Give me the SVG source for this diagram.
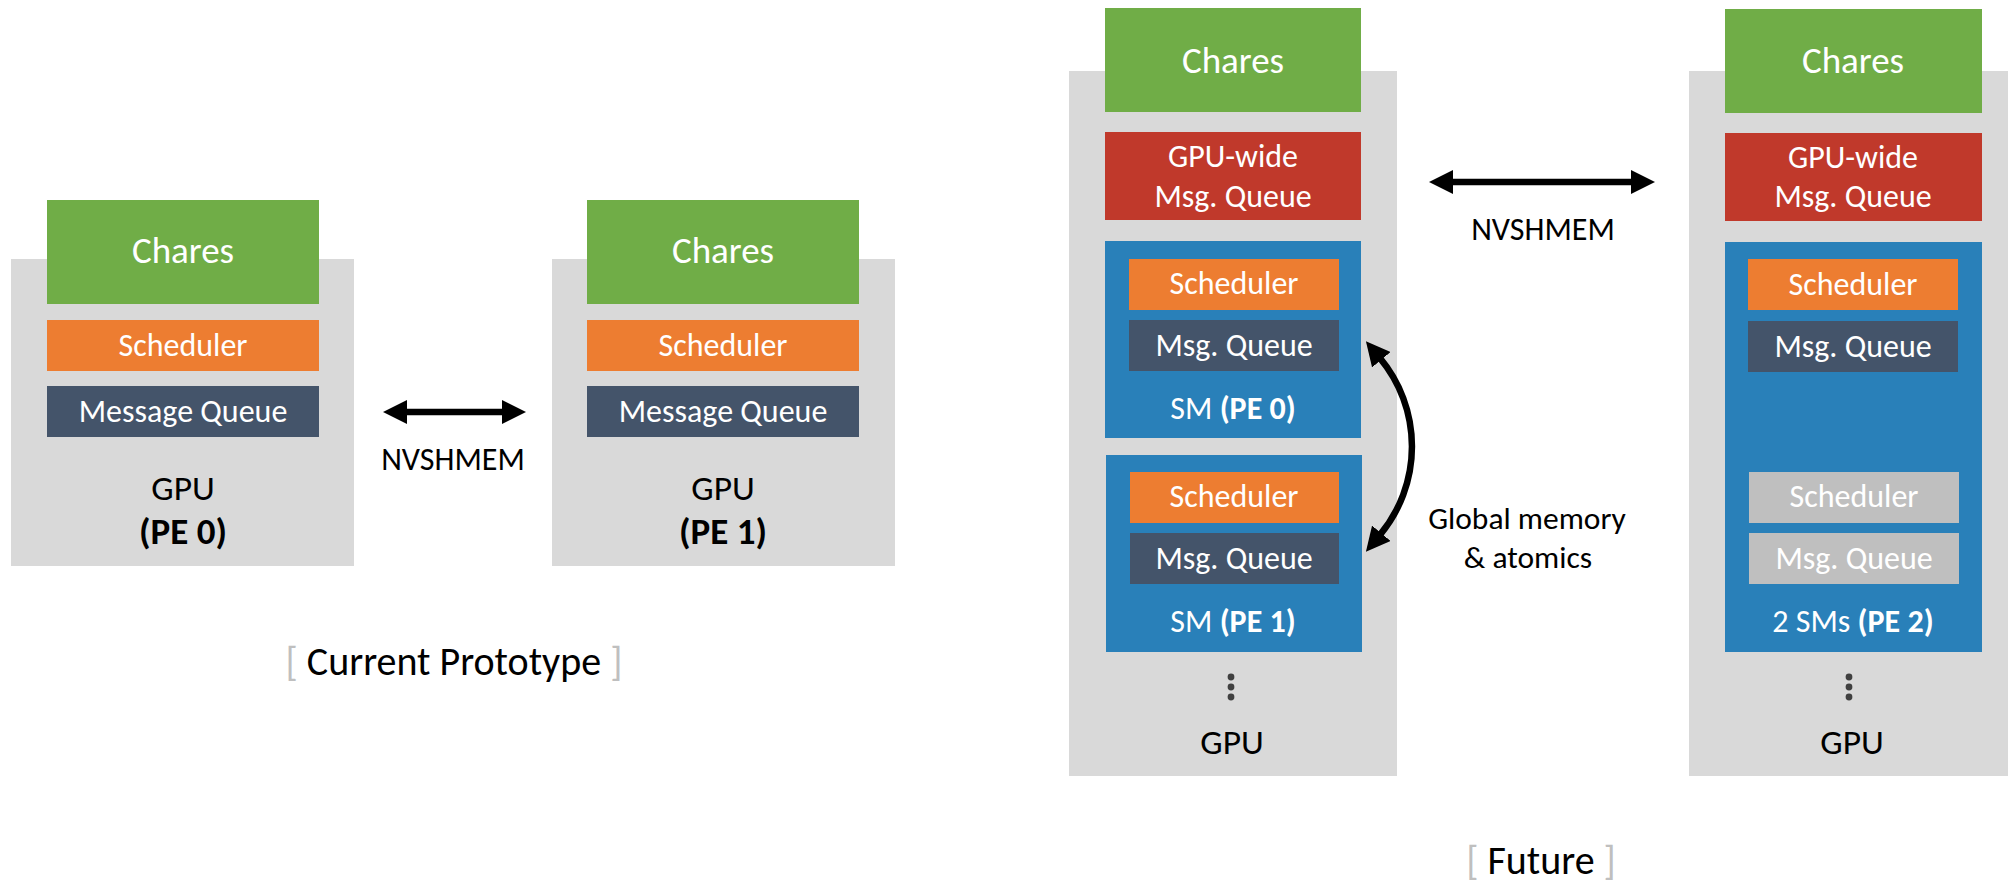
<svg xmlns="http://www.w3.org/2000/svg" width="2008" height="885" viewBox="0 0 2008 885">
  <style>
    text { font-family: Carlito, Calibri, Lato, "Open Sans", sans-serif; text-anchor: middle; }
    .gpu { fill: #d9d9d9; }
    .chares { fill: #70ad47; }
    .sched { fill: #ed7d31; }
    .queue { fill: #44546a; }
    .gq { fill: #c0392b; }
    .sm { fill: #2980b9; }
    .idle { fill: #bfbfbf; }
    .w { fill: #ffffff; }
    .k { fill: #000000; }
    .t37 { font-size: 37px; }
    .t32 { font-size: 32px; }
    .tgpu { font-size: 35.5px; }
    .tpe { font-size: 37px; font-weight: bold; }
    .t31 { font-size: 31.5px; }
    .tnv { font-size: 32px; }
    .cap { font-size: 40px; fill: #000000; }
    .br { fill: #bfbfbf; font-weight: 300; }
    .b { font-weight: bold; }
    .dot { fill: #404040; }
    .link { fill: none; stroke: #000000; stroke-width: 6.5; }
  </style>
  <defs>
    <marker id="head" markerUnits="userSpaceOnUse" markerWidth="24" markerHeight="24" viewBox="0 0 24 24" refX="2" refY="12" orient="auto-start-reverse">
      <path d="M0,0 L24,12 L0,24 Z" fill="#000000"/>
    </marker>
  </defs>

  <!-- Current prototype: one PE per GPU -->
  <g id="proto-gpu0">
    <rect class="gpu" x="11" y="259" width="343" height="307"/>
    <rect class="chares" x="47" y="200" width="272" height="104"/>
    <text class="w t37" x="183" y="263">Chares</text>
    <rect class="sched" x="47" y="320" width="272" height="51"/>
    <text class="w t32" x="183" y="356">Scheduler</text>
    <rect class="queue" x="47" y="386" width="272" height="51"/>
    <text class="w t32" x="183" y="422">Message Queue</text>
    <text class="k tgpu" x="183" y="500">GPU</text>
    <text class="k tpe" x="183" y="544">(PE 0)</text>
  </g>

  <g id="proto-gpu1">
    <rect class="gpu" x="552" y="259" width="343" height="307"/>
    <rect class="chares" x="587" y="200" width="272" height="104"/>
    <text class="w t37" x="723" y="263">Chares</text>
    <rect class="sched" x="587" y="320" width="272" height="51"/>
    <text class="w t32" x="723" y="356">Scheduler</text>
    <rect class="queue" x="587" y="386" width="272" height="51"/>
    <text class="w t32" x="723" y="422">Message Queue</text>
    <text class="k tgpu" x="723" y="500">GPU</text>
    <text class="k tpe" x="723" y="544">(PE 1)</text>
  </g>

  <!-- Future: many PEs per GPU -->
  <g id="future-gpu-a">
    <rect class="gpu" x="1069" y="71" width="328" height="705"/>
    <rect class="chares" x="1105" y="8" width="256" height="104"/>
    <text class="w t37" x="1233" y="73">Chares</text>
    <rect class="gq" x="1105" y="132" width="256" height="88"/>
    <text class="w t32" x="1233" y="167">GPU-wide</text>
    <text class="w t32" x="1233" y="207">Msg. Queue</text>
    <g id="sm-pe0">
      <rect class="sm" x="1105" y="241" width="256" height="197"/>
      <rect class="sched" x="1129" y="259" width="210" height="51"/>
      <text class="w t32" x="1234" y="294">Scheduler</text>
      <rect class="queue" x="1129" y="320" width="210" height="51"/>
      <text class="w t32" x="1234" y="356">Msg. Queue</text>
      <text class="w t32" x="1233" y="419">SM <tspan class="b">(PE 0)</tspan></text>
    </g>
    <g id="sm-pe1">
      <rect class="sm" x="1106" y="455" width="256" height="197"/>
      <rect class="sched" x="1130" y="472" width="209" height="51"/>
      <text class="w t32" x="1234" y="507">Scheduler</text>
      <rect class="queue" x="1130" y="533" width="209" height="51"/>
      <text class="w t32" x="1234" y="569">Msg. Queue</text>
      <text class="w t32" x="1233" y="632">SM <tspan class="b">(PE 1)</tspan></text>
    </g>
    <circle class="dot" cx="1231" cy="677" r="3.4"/>
    <circle class="dot" cx="1231" cy="687" r="3.4"/>
    <circle class="dot" cx="1231" cy="697" r="3.4"/>
    <text class="k tgpu" x="1232" y="754">GPU</text>
  </g>

  <g id="future-gpu-b">
    <rect class="gpu" x="1689" y="71" width="328" height="705"/>
    <rect class="chares" x="1725" y="9" width="257" height="104"/>
    <text class="w t37" x="1853" y="73">Chares</text>
    <rect class="gq" x="1725" y="133" width="257" height="88"/>
    <text class="w t32" x="1853" y="168">GPU-wide</text>
    <text class="w t32" x="1853" y="207">Msg. Queue</text>
    <g id="sm-pe2">
      <rect class="sm" x="1725" y="242" width="257" height="410"/>
      <rect class="sched" x="1748" y="259" width="210" height="51"/>
      <text class="w t32" x="1853" y="295">Scheduler</text>
      <rect class="queue" x="1748" y="321" width="210" height="51"/>
      <text class="w t32" x="1853" y="357">Msg. Queue</text>
      <rect class="idle" x="1749" y="472" width="210" height="51"/>
      <text class="w t32" x="1854" y="507">Scheduler</text>
      <rect class="idle" x="1749" y="533" width="210" height="51"/>
      <text class="w t32" x="1854" y="569">Msg. Queue</text>
      <text class="w t32" x="1853" y="632">2 SMs <tspan class="b">(PE 2)</tspan></text>
    </g>
    <circle class="dot" cx="1849" cy="677" r="3.4"/>
    <circle class="dot" cx="1849" cy="687" r="3.4"/>
    <circle class="dot" cx="1849" cy="697" r="3.4"/>
    <text class="k tgpu" x="1852" y="754">GPU</text>
  </g>

  <g id="connectors">
    <path class="link" d="M405,412 H504" marker-start="url(#head)" marker-end="url(#head)"/>
    <path class="link" d="M1451,182 H1633" marker-start="url(#head)" marker-end="url(#head)"/>
    <path class="link" d="M1380,358.2 A138,138 0 0 1 1380,534.8" marker-start="url(#head)" marker-end="url(#head)"/>
  </g>

  <g id="labels">
    <text class="k tnv" x="453" y="470">NVSHMEM</text>
    <text class="k tnv" x="1543" y="240">NVSHMEM</text>
    <text class="k t31" x="1527" y="529">Global memory</text>
    <text class="k t31" x="1528" y="568">&amp; atomics</text>
    <text class="cap" x="454" y="675"><tspan class="br">[</tspan> Current Prototype <tspan class="br">]</tspan></text>
    <text class="cap" x="1541" y="874"><tspan class="br">[</tspan> Future <tspan class="br">]</tspan></text>
  </g>
</svg>
